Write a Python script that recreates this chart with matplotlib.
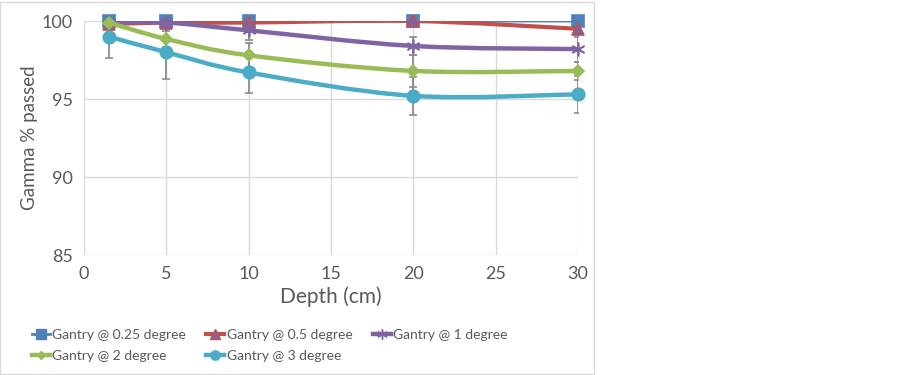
import matplotlib
matplotlib.use('Agg')
from matplotlib import pyplot as plt
from matplotlib.path import Path
from matplotlib.patches import PathPatch, Rectangle
from matplotlib.lines import Line2D

plt.rcParams['font.family'] = ['Lato', 'DejaVu Sans']

# data
depth = [1.5, 5, 10, 20, 30]
gantry_025 = [100, 100, 100, 100, 100]
gantry_05 = [99.8, 99.9, 99.9, 100, 99.5]
gantry_1 = [99.9, 99.9, 99.4, 98.4, 98.2]
gantry_2 = [99.9, 98.85, 97.8, 96.8, 96.8]
gantry_3 = [99.0, 98.0, 96.7, 95.2, 95.3]

err_025 = [0.05, 0.05, 0.05, 0.05, 0.05]
err_05 = [0.2, 0.1, 0.1, 0.3, 0.4]
err_1 = [0.2, 0.3, 0.6, 0.6, 0.8]
err_2 = [0.2, 0.5, 0.8, 1.0, 0.6]
err_3 = [1.4, 1.7, 1.3, 1.2, 1.2]

labels = ['Gantry @ 0.25 degree', 'Gantry @ 0.5 degree', 'Gantry @ 1 degree',
          'Gantry @ 2 degree', 'Gantry @ 3 degree']
series = [gantry_025, gantry_05, gantry_1, gantry_2, gantry_3]
errors = [err_025, err_05, err_1, err_2, err_3]

colors = ['#4F81BD', '#C0504D', '#8064A2', '#9BBB59', '#4BACC6']
markers = ['s', '^', (6, 2, 0), 'D', 'o']
msizes = [9, 9, 10, 6, 9]
widths = [2.0, 3.0, 3.2, 3.2, 3.2]
mfc = ['#4F81BD', '#8064A2', 'none', '#9BBB59', '#4BACC6']
mec = ['#4F81BD', '#C0504D', '#8064A2', '#9BBB59', '#4BACC6']


def smooth_path(x, y):
	"""Excel-like smoothed line: cubic bezier through the points"""
	pts = list(zip(x, y))
	n = len(pts)
	verts = [pts[0]]
	codes = [Path.MOVETO]
	for i in range(n - 1):
		p0 = pts[i - 1] if i > 0 else pts[i]
		p1 = pts[i]
		p2 = pts[i + 1]
		p3 = pts[i + 2] if i + 2 < n else pts[i + 1]
		c1 = (p1[0] + (p2[0] - p0[0]) / 6, p1[1] + (p2[1] - p0[1]) / 6)
		c2 = (p2[0] - (p3[0] - p1[0]) / 6, p2[1] - (p3[1] - p1[1]) / 6)
		verts += [c1, c2, p2]
		codes += [Path.CURVE4] * 3
	return Path(verts, codes)


fig = plt.figure(figsize=(9.03, 3.75), dpi=100)
ax = fig.add_axes([84 / 903, 1 - 255 / 375, (578 - 84) / 903, (255 - 21) / 375])

# chart border
fig.patches.append(Rectangle((0.5 / 903, 1 / 375), 594 / 903, 372 / 375, transform=fig.transFigure,
                             fill=False, edgecolor='#D9D9D9', linewidth=1))

for ys, es in zip(series, errors):
	ax.errorbar(depth, ys, yerr=es, fmt='none', ecolor='#8C8C8C', elinewidth=1.3,
	            capsize=3, capthick=1.2, zorder=2)

handles = []
for i, ys in enumerate(series):
	ax.add_patch(PathPatch(smooth_path(depth, ys), fill=False, edgecolor=colors[i],
	                       linewidth=widths[i], capstyle='round', zorder=3 + i))
	ax.plot(depth, ys, linestyle='none', marker=markers[i], markersize=msizes[i],
	        markerfacecolor=mfc[i], markeredgecolor=mec[i], markeredgewidth=1.2,
	        zorder=3 + i, clip_on=False)
	handles.append(Line2D([], [], color=colors[i], linewidth=widths[i], marker=markers[i],
	                      markersize=msizes[i] * 0.75, markerfacecolor=mfc[i],
	                      markeredgecolor=mec[i]))

ax.set_xlim(0, 30)
ax.set_ylim(85, 100)
ax.set_xticks([0, 5, 10, 15, 20, 25, 30])
ax.set_yticks([85, 90, 95, 100])
ax.grid(True, color='#D9D9D9', linewidth=1)
ax.set_axisbelow(True)
for s in ax.spines.values():
	s.set_visible(False)
ax.tick_params(length=0, labelsize=13, labelcolor='#595959', pad=8)
ax.set_xlabel('Depth (cm)', fontsize=15, color='#595959', labelpad=3)
ax.set_ylabel('Gamma % passed', fontsize=13.5, color='#595959', labelpad=3)

# legend is filled row by row in the reference
order = [0, 3, 1, 4, 2]
fig.legend([handles[k] for k in order], [labels[k] for k in order], ncol=3, loc='upper left',
           bbox_to_anchor=(26 / 903, 1 - 323 / 375), frameon=False, fontsize=10,
           labelcolor='#595959', handlelength=1.3, handletextpad=0.15, columnspacing=1.5,
           borderaxespad=0, labelspacing=0.65)

fig.savefig('out.png', dpi=100)
